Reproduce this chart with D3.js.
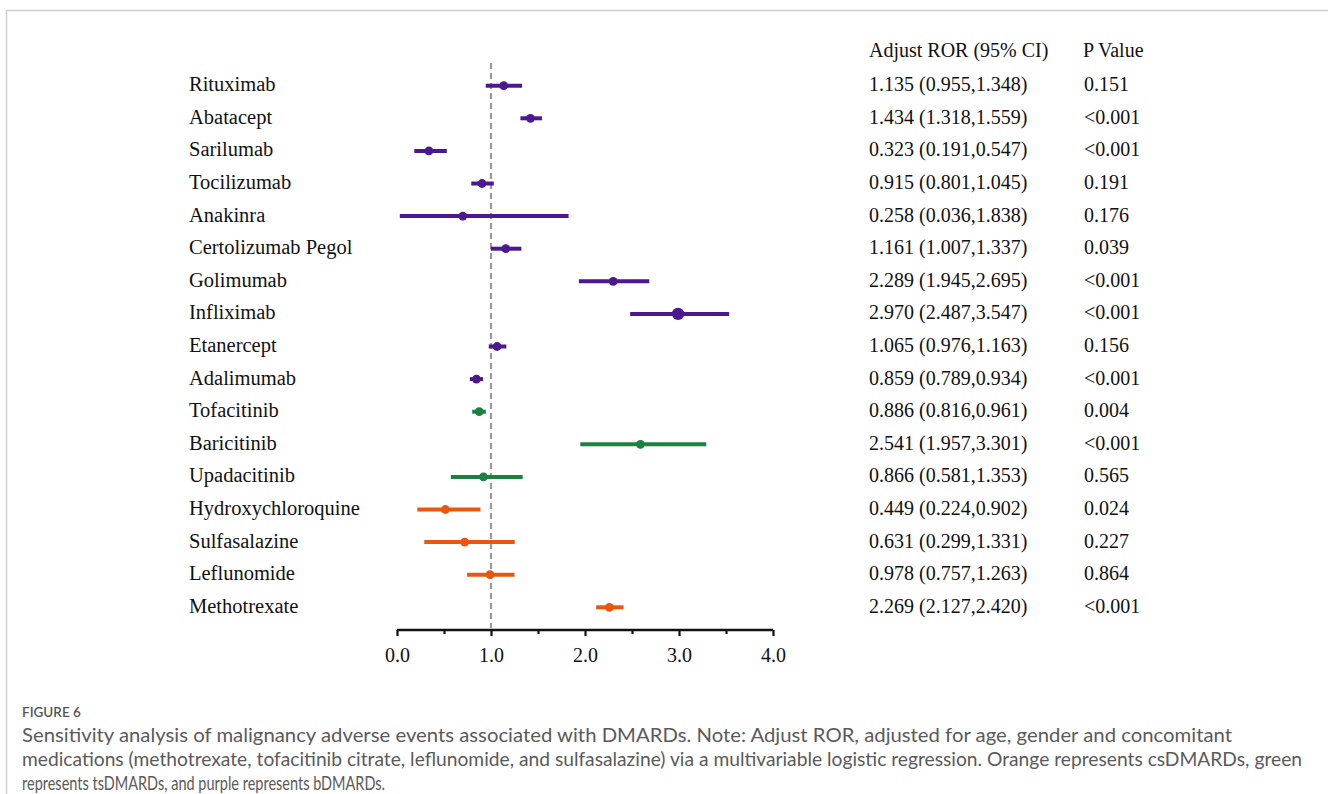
<!DOCTYPE html>
<html>
<head>
<meta charset="utf-8">
<script src="https://cdn.jsdelivr.net/npm/d3@7"></script>
<style>
  html, body { margin: 0; padding: 0; background: #fff; }
  svg { display: block; }
</style>
</head>
<body>
<svg id="chart" width="1328" height="794"></svg>
<script>
// ---- data ----
const drugs = ["Rituximab","Abatacept","Sarilumab","Tocilizumab","Anakinra","Certolizumab Pegol","Golimumab","Infliximab","Etanercept","Adalimumab","Tofacitinib","Baricitinib","Upadacitinib","Hydroxychloroquine","Sulfasalazine","Leflunomide","Methotrexate"];
const drugClass = ["b","b","b","b","b","b","b","b","b","b","ts","ts","ts","cs","cs","cs","cs"];
// plotted point estimates and CI bounds
const pointEst = [1.135,1.42,0.34,0.905,0.70,1.157,2.30,2.99,1.065,0.845,0.875,2.59,0.92,0.515,0.72,0.99,2.26];
const lowerCI  = [0.944,1.313,0.184,0.79,0.03,0.997,1.935,2.48,0.976,0.775,0.80,1.95,0.573,0.216,0.29,0.746,2.119];
const upperCI  = [1.33,1.543,0.53,1.03,1.825,1.323,2.684,3.533,1.163,0.915,0.945,3.29,1.337,0.888,1.252,1.25,2.41];
const rorText = ["1.135 (0.955,1.348)","1.434 (1.318,1.559)","0.323 (0.191,0.547)","0.915 (0.801,1.045)","0.258 (0.036,1.838)","1.161 (1.007,1.337)","2.289 (1.945,2.695)","2.970 (2.487,3.547)","1.065 (0.976,1.163)","0.859 (0.789,0.934)","0.886 (0.816,0.961)","2.541 (1.957,3.301)","0.866 (0.581,1.353)","0.449 (0.224,0.902)","0.631 (0.299,1.331)","0.978 (0.757,1.263)","2.269 (2.127,2.420)"];
const pText = ["0.151","<0.001","<0.001","0.191","0.176","0.039","<0.001","<0.001","0.156","<0.001","0.004","<0.001","0.565","0.024","0.227","0.864","<0.001"];
const majorTicks = [0,1,2,3,4];
const minorTicks = [0.5,1.5,2.5,3.5];
const tickLabels = ["0.0","1.0","2.0","3.0","4.0"];
const headers = ["Adjust ROR (95% CI)","P Value"];
const figureLabel = "FIGURE 6";
const captionLines = [
  "Sensitivity analysis of malignancy adverse events associated with DMARDs. Note: Adjust ROR, adjusted for age, gender and concomitant",
  "medications (methotrexate, tofacitinib citrate, leflunomide, and sulfasalazine) via a multivariable logistic regression. Orange represents csDMARDs, green",
  "represents tsDMARDs, and purple represents bDMARDs."
];

// ---- styles ----
const colors = { b: "#4b1890", ts: "#1b8040", cs: "#e8570e" };
const serif = "'Liberation Serif', 'Times New Roman', serif";
const sans = "Lato, 'Open Sans', 'Noto Sans', sans-serif";

const svg = d3.select("#chart");

// border
svg.append("line").attr("x1", 6.5).attr("x2", 1328).attr("y1", 10.5).attr("y2", 10.5)
  .attr("stroke", "#cfcfcf").attr("stroke-width", 1.5);
svg.append("line").attr("x1", 6.5).attr("x2", 6.5).attr("y1", 10).attr("y2", 794)
  .attr("stroke", "#cfcfcf").attr("stroke-width", 1.5);

const x = d3.scaleLinear().domain([0, 4]).range([397, 773]);
const y = d3.scalePoint().domain(drugs).range([85.7, 607.3]);

// reference line
svg.append("line")
  .attr("x1", x(1)).attr("x2", x(1))
  .attr("y1", 63).attr("y2", 628)
  .attr("stroke", "#9a9a9a").attr("stroke-width", 2.2)
  .attr("stroke-dasharray", "6,4");

// axis
const axisY = 630;
const gMinor = svg.append("g").attr("transform", `translate(0,${axisY})`)
  .call(d3.axisBottom(x).tickValues(minorTicks).tickSize(4).tickFormat(""));
gMinor.select(".domain").remove();
gMinor.selectAll("line").attr("stroke", "#111").attr("stroke-width", 2.2);

const gAxis = svg.append("g").attr("transform", `translate(0,${axisY})`)
  .call(d3.axisBottom(x).tickValues(majorTicks).tickSize(6).tickSizeOuter(0).tickPadding(12)
    .tickFormat((d, i) => tickLabels[i]));
gAxis.select(".domain").attr("stroke", "#111").attr("stroke-width", 2.4)
  .attr("d", `M${x(0)},0H${x(4)}`);
gAxis.selectAll(".tick line").attr("stroke", "#111").attr("stroke-width", 2.2);
gAxis.selectAll(".tick text").attr("fill", "#111")
  .style("font-family", serif).style("font-size", "20px");

// rows
const rows = svg.append("g").selectAll("g").data(drugs).join("g")
  .attr("transform", d => `translate(0,${y(d)})`);

rows.append("text").attr("x", 189).attr("y", 5.5)
  .style("font-family", serif).style("font-size", "20.5px").attr("fill", "#111")
  .text(d => d);

rows.append("line")
  .attr("x1", (d, i) => x(lowerCI[i])).attr("x2", (d, i) => x(upperCI[i]))
  .attr("y1", 0).attr("y2", 0)
  .attr("stroke", (d, i) => colors[drugClass[i]]).attr("stroke-width", 4);

rows.append("circle")
  .attr("cx", (d, i) => x(pointEst[i])).attr("cy", 0)
  .attr("r", (d, i) => d === "Infliximab" ? 6.2 : 4.4)
  .attr("fill", (d, i) => colors[drugClass[i]]);

rows.append("text").attr("x", 869).attr("y", 5.5)
  .style("font-family", serif).style("font-size", "20px").attr("fill", "#111")
  .text((d, i) => rorText[i]);
rows.append("text").attr("x", 1084).attr("y", 5.5)
  .style("font-family", serif).style("font-size", "20px").attr("fill", "#111")
  .text((d, i) => pText[i]);

// headers
svg.append("text").attr("x", 869).attr("y", 57)
  .style("font-family", serif).style("font-size", "20px").attr("fill", "#111").text(headers[0]);
svg.append("text").attr("x", 1083).attr("y", 57)
  .style("font-family", serif).style("font-size", "20px").attr("fill", "#111").text(headers[1]);

// caption
svg.append("text").attr("x", 22).attr("y", 717)
  .style("font-family", sans).style("font-size", "13.5px").style("font-weight", "600")
  .attr("fill", "#555").text(figureLabel);

const capEnds = [1232, 1302, 385];
let natTotal = 0;
captionLines.forEach(t => {
  const p = svg.append("text").style("font-family", sans).style("font-size", "16px").text(t);
  natTotal += p.node().getComputedTextLength();
  p.remove();
});
const capSize = 16 * d3.sum(capEnds, e => e - 22) / natTotal;
captionLines.forEach((t, i) => {
  svg.append("text").attr("x", 22).attr("y", 742 + i * 24)
    .style("font-family", sans).style("font-size", capSize + "px")
    .attr("fill", "#5a5a5a")
    .attr("textLength", capEnds[i] - 22).attr("lengthAdjust", "spacingAndGlyphs")
    .text(t);
});
</script>
</body>
</html>
